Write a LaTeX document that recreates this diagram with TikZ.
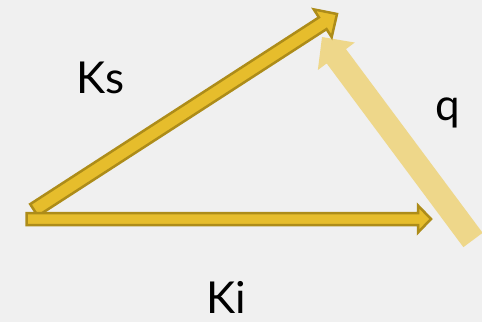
\documentclass[tikz,border=0pt]{standalone}
\usepackage{fontspec}
\setmainfont{Lato}
\usetikzlibrary{calc}
\definecolor{bggray}{HTML}{F0F0F0}
\definecolor{gold}{HTML}{E6BD2C}
\definecolor{golddark}{HTML}{AD8C19}
\definecolor{paleyellow}{HTML}{EED78A}
\tikzset{
  goldarrow/.style={fill=gold, draw=golddark, line width=2.5pt, line join=miter},
  palearrow/.style={fill=paleyellow},
  vlabel/.style={font=\fontsize{44}{50}\selectfont, inner sep=0pt},
}
% block arrow: style, tail, tip, half shaft, half head, head length
\newcommand{\blockarr}[6]{%
  \coordinate (#2base) at ($(#3)!#6!(#2)$);
  \path[#1] ($(#2)!#4!90:(#3)$) -- ($(#2base)!#4!90:(#3)$)
    -- ($(#2base)!#5!90:(#3)$) -- (#3)
    -- ($(#2base)!#5!-90:(#3)$) -- ($(#2base)!#4!-90:(#3)$)
    -- ($(#2)!#4!-90:(#3)$) -- cycle;
}

\begin{document}
\begin{tikzpicture}[x=1pt,y=-1pt]
        % background
        \fill[bggray] (0,0) rectangle (482,322);
        \useasboundingbox (0,0) rectangle (482,322);

        % tails and tips of the vectors
        \coordinate (ksTail) at (34,210);
        \coordinate (ksTip) at (337,14);
        \coordinate (kiTail) at (26.5,219);
        \coordinate (kiTip) at (431,219);
        \coordinate (qTail) at (473,240);
        \coordinate (qTip) at (322,37);

        % vectors
        \blockarr{palearrow}{qTail}{qTip}{12pt}{23pt}{24pt}
        \blockarr{goldarrow}{ksTail}{ksTip}{7pt}{16.5pt}{17pt}
        \blockarr{goldarrow}{kiTail}{kiTip}{6pt}{13.5pt}{13pt}

        % labels
        \node[vlabel] (ks) at (100.5,78) {Ks};
        \node[vlabel] (q) at (447.5,113) {q};
        \node[vlabel] (ki) at (226.5,297.5) {Ki};
\end{tikzpicture}
\end{document}
